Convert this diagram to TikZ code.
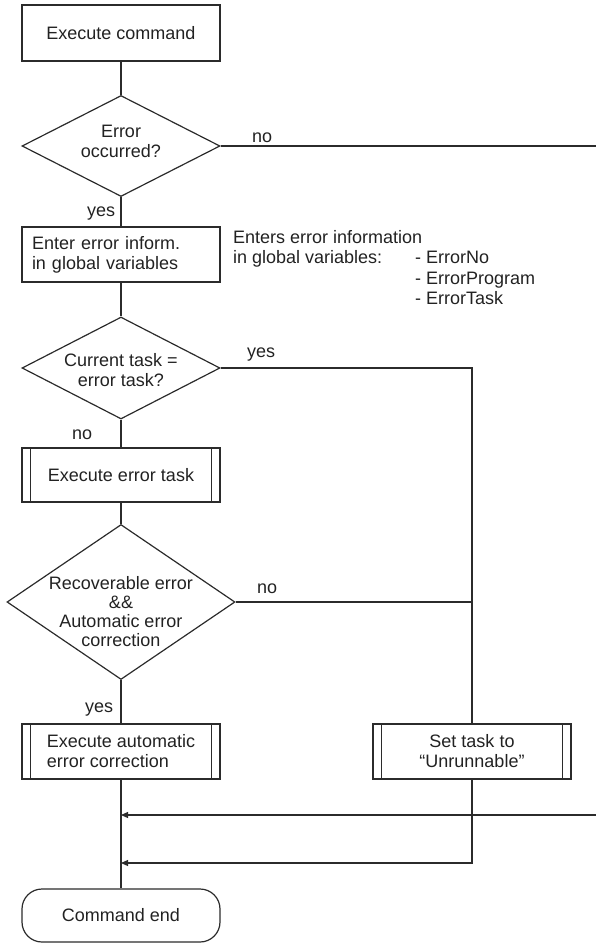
\documentclass[tikz,border=0pt]{standalone}
\usepackage{fontspec}
\setmainfont{Liberation Sans}
\usetikzlibrary{shapes.geometric,arrows.meta}
\definecolor{ln}{HTML}{2B2B2B}
\definecolor{tx}{HTML}{222222}
\begin{document}
\begin{tikzpicture}[x=1pt,y=-1pt,
  every node/.style={font=\fontsize{18}{20}\selectfont, text=tx},
  box/.style={draw=ln, line width=1.2pt, rectangle, minimum width=198pt, minimum height=55pt, inner sep=0pt, align=center},
  dia/.style={draw=ln, line width=1.2pt, diamond, inner sep=0pt},
  con/.style={draw=ln, line width=1.2pt},
  arr/.style={con, -{Triangle[length=7pt,width=6pt]}},
  lbl/.style={anchor=base west, inner sep=0pt},
]
\useasboundingbox (0,0) rectangle (596,943);

% main column
\node[box, minimum height=56pt] (cmd) at (121,33) {Execute command};
\node[dia, minimum width=198pt, minimum height=101pt] (d1) at (121,146) {};
\node[align=center, inner sep=0pt] (d1t) at (121,141) {Error\\occurred?};
\node[box, text width=178pt, align=left] (info) at (121,254.5) {Enter error inform.\\in global variables};
\node[dia, minimum width=198pt, minimum height=102pt] (d2) at (121,368) {};
\node[align=center, inner sep=0pt] (d2t) at (121,370) {Current task =\\error task?};
\node[box, minimum height=54pt] (etask) at (121,475) {Execute error task};
\node[dia, minimum width=228pt, minimum height=155pt] (d3) at (121,602) {};
\node[align=center, inner sep=0pt, font=\fontsize{18}{19}\selectfont] (d3t) at (121,612) {Recoverable error\\\&\&\\Automatic error\\correction};
\node[box, align=left] (auto) at (121,751.5) {Execute automatic\\error correction};
\node[box] (unrun) at (472,751.5) {Set task to\\“Unrunnable”};
\node[box, rounded corners=20pt, minimum height=53pt] (end) at (121,915.5) {Command end};

% double bars (predefined process)
\foreach \n in {etask,auto,unrun}{
  \draw[con] ([xshift=9pt]\n.north west) -- ([xshift=9pt]\n.south west);
  \draw[con] ([xshift=-9pt]\n.north east) -- ([xshift=-9pt]\n.south east);
}

% side note
\node[lbl] (n1) at (233,243) {Enters error information};
\node[lbl] (n2) at (233,263) {in global variables:};
\node[lbl] (n3) at (415,263) {- ErrorNo};
\node[lbl] (n4) at (415,284) {- ErrorProgram};
\node[lbl] (n5) at (415,304) {- ErrorTask};

% connectors
\coordinate (r1) at (596,146);
\coordinate (r2) at (596,815);
\coordinate (m1) at (121,815);
\coordinate (m2) at (121,863);
\draw[con] (cmd) -- (d1);
\draw[con] (d1) -- (info);
\draw[con] (info) -- (d2);
\draw[con] (d2) -- (etask);
\draw[con] (etask) -- (d3);
\draw[con] (d3) -- (auto);
\draw[con] (auto) -- (end);
\draw[con] (d1.east) -- (r1);
\draw[con] (d2.east) -| (unrun.north);
\draw[con] (d3.east) -- (d3.east -| unrun.north);
\draw[arr] (r2) -- (m1);
\draw[arr] (unrun.south) |- (m2);

% labels
\node[lbl] (l1) at (252,142) {no};
\node[lbl] (l2) at (87,216) {yes};
\node[lbl] (l3) at (247,357) {yes};
\node[lbl] (l4) at (72,439) {no};
\node[lbl] (l5) at (257,593) {no};
\node[lbl] (l6) at (85,712) {yes};
\end{tikzpicture}
\end{document}
